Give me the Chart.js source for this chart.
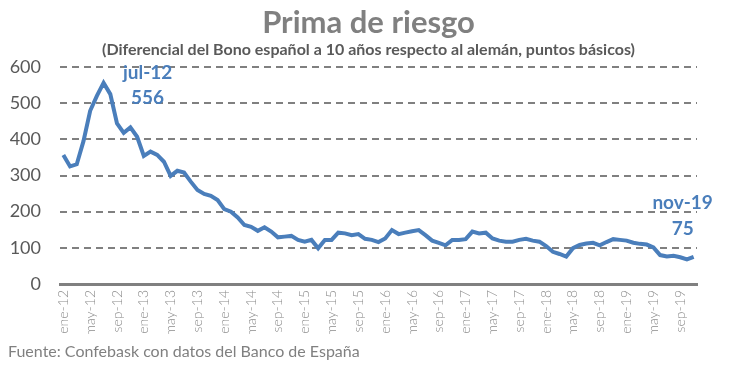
<!DOCTYPE html>
<html>
<head>
<meta charset="utf-8">
<script src="https://cdn.jsdelivr.net/npm/chart.js@4"></script>
<style>
  body { margin: 0; background: #fff; }
  #wrap { position: relative; width: 737px; height: 368px; font-family: Lato, sans-serif; }
  #titulo { position: absolute; left: 0; width: 737px; top: 2px; text-align: center; font-size: 31px; font-weight: 700; color: #808080; }
  #subtitulo { position: absolute; left: 0; width: 737px; top: 39px; text-align: center; font-size: 16px; font-weight: 700; color: #595959; }
  #fuente { position: absolute; left: 8px; top: 341px; font-size: 16px; color: #808080; }
  canvas { position: absolute; left: 0; top: 0; }
</style>
</head>
<body>
<div id="wrap">
  <canvas id="grafico" width="737" height="368"></canvas>
  <div id="titulo">Prima de riesgo</div>
  <div id="subtitulo">(Diferencial del Bono español a 10 años respecto al alemán, puntos básicos)</div>
  <div id="fuente">Fuente: Confebask con datos del Banco de España</div>
</div>
<script>
// Meses y años del eje horizontal
const meses = ['ene', 'feb', 'mar', 'abr', 'may', 'jun', 'jul', 'ago', 'sep', 'oct', 'nov', 'dic'];
const anios = ['12', '13', '14', '15', '16', '17', '18', '19'];

// Prima de riesgo mensual (ene-12 a nov-19), puntos básicos
const prima = [
  357, 325, 331, 395, 479, 520, 556, 525, 444, 418, 433, 407,
  354, 366, 357, 338, 299, 313, 308, 283, 260, 249, 244, 232,
  207, 200, 184, 163, 158, 147, 157, 145, 129, 131, 133, 122,
  117, 122, 99, 122, 122, 142, 140, 135, 138, 125, 122, 116,
  126, 149, 138, 142, 146, 149, 135, 120, 114, 107, 122, 122,
  124, 145, 140, 142, 126, 120, 117, 117, 122, 125, 120, 117,
  105, 89, 83, 76, 99, 108, 112, 114, 107, 116, 124, 122,
  120, 114, 111, 109, 101, 80, 76, 78, 74, 68, 75
];

const ticksY = [0, 100, 200, 300, 400, 500, 600];

// Etiquetas destacadas: índice del punto y textos
const destacados = [
  { idx: 6, texto: 'jul-12', valor: '556', dx: 44, dy1: -10, dy2: 15 },
  { idx: 94, texto: 'nov-19', valor: '75', dx: -11, dy1: -54, dy2: -28 }
];

const etiquetas = [];
anios.forEach(a => meses.forEach(m => etiquetas.push(m + '-' + a)));
etiquetas.length = prima.length;

const azul = '#4a7ebb';

const pluginDestacados = {
  id: 'destacados',
  afterDatasetsDraw(chart) {
    const ctx = chart.ctx;
    const meta = chart.getDatasetMeta(0);
    ctx.save();
    ctx.fillStyle = azul;
    ctx.font = 'bold 19px Lato';
    ctx.textAlign = 'center';
    ctx.textBaseline = 'middle';
    destacados.forEach(d => {
      const p = meta.data[d.idx];
      ctx.fillText(d.texto, p.x + d.dx, p.y + d.dy1);
      ctx.fillText(d.valor, p.x + d.dx, p.y + d.dy2);
    });
    ctx.restore();
  }
};

const ctx = document.getElementById('grafico').getContext('2d');
new Chart(ctx, {
  type: 'line',
  data: {
    labels: etiquetas,
    datasets: [{
      data: prima,
      borderColor: azul,
      borderWidth: 4,
      pointRadius: 0,
      tension: 0,
      fill: false
    }]
  },
  options: {
    responsive: false,
    animation: false,
    layout: { padding: { top: 67, right: 40, bottom: 34, left: 0 } },
    plugins: {
      legend: { display: false },
      tooltip: { enabled: false }
    },
    scales: {
      x: {
        offset: true,
        grid: { display: false, drawTicks: false },
        border: { display: true, color: '#808080', width: 3 },
        afterFit: s => { s.height = 50; },
        ticks: {
          autoSkip: false,
          maxRotation: 90,
          minRotation: 90,
          padding: 6,
          color: '#8c8c8c',
          font: { family: 'Lato', size: 14, weight: 300 },
          callback: function (v, i) { return i % 4 === 0 ? this.getLabelForValue(v) : ''; }
        }
      },
      y: {
        min: 0,
        max: 600,
        afterFit: s => { s.width = 60; },
        afterBuildTicks: s => { s.ticks = ticksY.map(v => ({ value: v })); },
        grid: { color: '#808080', lineWidth: 2, drawTicks: false },
        border: { display: false, dash: [7, 5] },
        ticks: {
          padding: 19,
          color: '#595959',
          font: { family: 'Lato', size: 18 }
        }
      }
    }
  },
  plugins: [pluginDestacados]
});
</script>
</body>
</html>
